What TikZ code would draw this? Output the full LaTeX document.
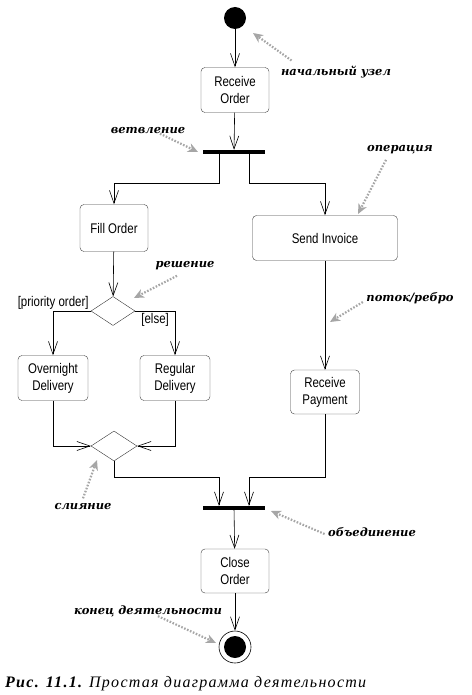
\documentclass[tikz,border=0pt]{standalone}
\usepackage{fontspec}
\newfontfamily\nodefont{Liberation Sans}[FakeStretch=0.82]
\newfontfamily\notefont{DejaVu Serif}
\newfontfamily\capfont{Liberation Serif}[LetterSpace=8]
\usetikzlibrary{arrows.meta,positioning,shapes.geometric}

\tikzset{
  actbox/.style={draw=black!75,rounded corners=4pt,minimum width=68pt,minimum height=45pt,
    align=center,inner sep=2pt,font=\nodefont\fontsize{14}{17}\selectfont},
  bar/.style={fill=black,minimum width=62pt,minimum height=4pt,inner sep=0pt},
  choice/.style={diamond,draw=black!80,inner sep=0pt,minimum width=44pt,minimum height=29pt},
  flow/.style={draw=black,line width=0.6pt,-{Straight Barb[length=13pt,width=9pt]}},
  note/.style={font=\notefont\bfseries\itshape\fontsize{11.5}{13}\selectfont},
  hint/.style={draw=black!35,line width=2.2pt,dash pattern=on 1.6pt off 1.6pt,
    -{Stealth[length=10pt,width=9pt,inset=3pt,fill=black!35]}},
  guard/.style={font=\nodefont\fontsize{14}{16}\selectfont,inner sep=1pt}
}

\begin{document}
\begin{tikzpicture}[x=1pt,y=-1pt]
  \useasboundingbox (0,0) rectangle (471,695);
  % activity nodes
  \node[circle,fill=black,minimum size=22pt,inner sep=0pt] (start) at (235,18) {};
  \node[actbox] (recvorder) at (235,90) {Receive\\Order};
  \node[bar] (fork) at (234,152) {};
  \node[actbox,minimum height=47pt] (fillorder) at (114,228) {Fill Order};
  \node[actbox,minimum width=145pt] (invoice) at (325,238) {Send Invoice};
  \node[choice] (decide) at (113,311) {};
  \node[actbox,minimum width=70pt] (overnight) at (53,378) {Overnight\\Delivery};
  \node[actbox,minimum width=70pt] (regular) at (175,378) {Regular\\Delivery};
  \node[actbox,minimum width=69pt,minimum height=44pt] (payment) at (325,392) {Receive\\Payment};
  \node[choice,minimum width=46pt,minimum height=30pt] (merge) at (114,446) {};
  \node[bar] (join) at (234,508) {};
  \node[actbox,minimum height=44pt] (closeorder) at (235,571) {Close\\Order};
  \node[circle,draw=black,line width=0.6pt,minimum size=32pt,inner sep=0pt] (stop) at (235,647) {};
  \node[circle,fill=black,minimum size=22pt,inner sep=0pt] (stopdot) at (stop.center) {};

  % control flows
  \draw[flow] (start) -- (recvorder);
  \draw[flow] (recvorder) -- (fork);
  \draw[flow] ([xshift=-15pt]fork.south) -- ++(0,29) -| (fillorder);
  \draw[flow] ([xshift=15pt]fork.south) -- ++(0,29) -| (invoice);
  \draw[flow] (fillorder) -- (decide);
  \draw[flow] (decide.west) -| (overnight);
  \draw[flow] (decide.east) -| (regular);
  \draw[flow] (invoice) -- (payment);
  \draw[flow] (overnight) |- (merge.west);
  \draw[flow] (regular) |- (merge.east);
  \draw[flow] (merge.south) -- ++(0,16) -| ([xshift=-15pt]join.north);
  \draw[flow] (payment.south) -- ++(0,63) -| ([xshift=15pt]join.north);
  \draw[flow] (join) -- (closeorder);
  \draw[flow] (closeorder) -- (stop);

  % guards
  \node[guard,anchor=south east] (gprio) at ([xshift=-1pt]decide.west) {[priority order]};
  \node[guard,anchor=north west] (gelse) at ([xshift=5pt,yshift=-1pt]decide.east) {[else]};

  % annotations
  \node[note] (nstart) at (336,72) {начальный узел};
  \coordinate (pstart) at (253,33);
  \draw[hint] ([xshift=14pt,yshift=2pt]nstart.north west) -- (pstart);
  \node[note] (nfork) at (148,131) {ветвление};
  \coordinate (pfork) at (198,152);
  \draw[hint] ([xshift=12pt,yshift=4pt]nfork.south) -- (pfork);
  \node[note] (nop) at (400,150) {операция};
  \coordinate (pop) at (358,214);
  \draw[hint] ([xshift=-14pt,yshift=-2pt]nop.south) -- (pop);
  \node[note] (ndec) at (185,266) {решение};
  \coordinate (pdec) at (134,298);
  \draw[hint] ([xshift=-8pt,yshift=-2pt]ndec.south) -- (pdec);
  \node[note] (nflow) at (410,298) {поток/ребро};
  \coordinate (pflow) at (330,322);
  \draw[hint] ([yshift=-4pt]nflow.west) -- (pflow);
  \node[note] (nmerge) at (83,507) {слияние};
  \coordinate (pmerge) at (97,460);
  \draw[hint] ([yshift=2pt]nmerge.north) -- (pmerge);
  \node[note] (njoin) at (372,532) {объединение};
  \coordinate (pjoin) at (271,511);
  \draw[hint] ([yshift=-2pt]njoin.west) -- (pjoin);
  \node[note] (nstop) at (148,611) {конец деятельности};
  \coordinate (pstop) at (216,643);
  \draw[hint] ([xshift=10pt,yshift=4pt]nstop.south) -- (pstop);

  % caption
  \node[anchor=west,inner sep=0pt,font=\capfont\itshape\fontsize{16}{18}\selectfont] (caption) at (5,684)
    {{\bfseries Рис. 11.1.} Простая диаграмма деятельности};
\end{tikzpicture}
\end{document}
